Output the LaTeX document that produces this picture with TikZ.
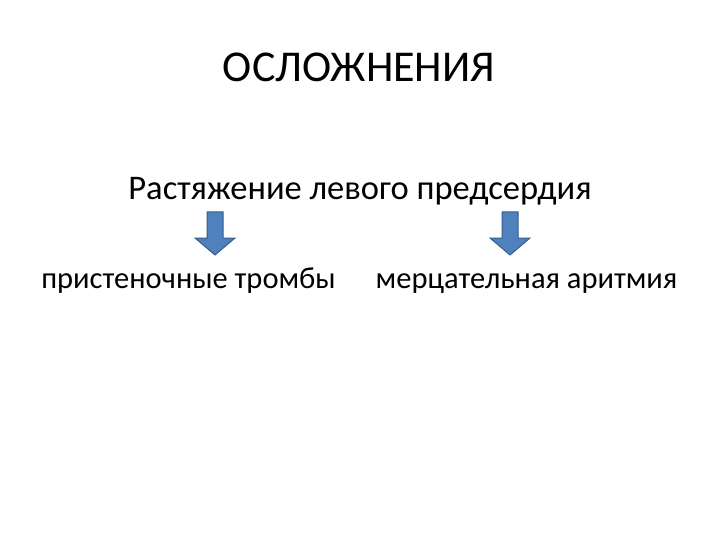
\documentclass[tikz,border=0pt]{standalone}
\usepackage{fontspec}
\setmainfont{Carlito}
\usepackage{tikz}

\tikzset{
    titletext/.style={anchor=base, inner sep=0.75pt, font=\fontsize{44}{52}\selectfont},
    causetext/.style={anchor=base, inner sep=0.75pt, font=\fontsize{34.5}{41}\selectfont},
    slidetext/.style={anchor=base, inner sep=0.75pt, font=\fontsize{30.5}{37}\selectfont},
    blockarrow/.style={draw=arrowborder, fill=arrowblue, line width=1pt, line join=miter}
}
\definecolor{arrowblue}{HTML}{4F81BD}
\definecolor{arrowborder}{HTML}{385D8A}

\begin{document}
\begin{tikzpicture}[x=1pt,y=1pt,yscale=-1,xscale=1]
    \useasboundingbox (0,0) rectangle (720,540);

    % Text Node
    \node[titletext] (title) at (359,82) {ОСЛОЖНЕНИЯ};
    % Text Node
    \node[causetext] (cause) at (360,200) {Растяжение левого предсердия};
    % Text Node
    \node[slidetext] (thromb) at (188.5,288) {пристеночные тромбы};
    % Text Node
    \node[slidetext] (arrhythm) at (526.5,288) {мерцательная аритмия};

    % Block Arrow (left)
    \draw[blockarrow] (207,212) -- (223,212) -- (223,238) -- (235,238) -- (215,255)
        -- (195,238) -- (207,238) -- cycle;
    % Block Arrow (right)
    \draw[blockarrow] (502,212) -- (518,212) -- (518,238) -- (530,238) -- (510,255)
        -- (490,238) -- (502,238) -- cycle;

\end{tikzpicture}
\end{document}
